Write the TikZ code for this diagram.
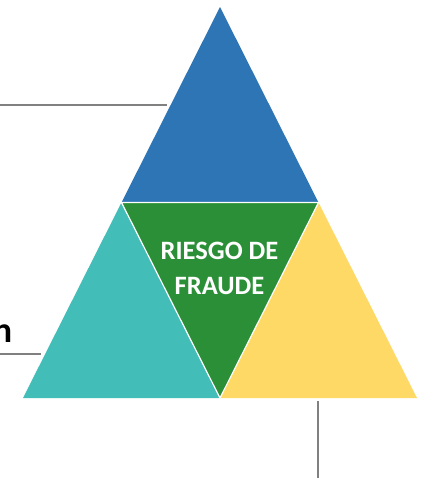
\documentclass[tikz,border=0pt]{standalone}
\usepackage{fontspec}
\setmainfont{Carlito}
\definecolor{cblue}{RGB}{46,117,182}
\definecolor{cgreen}{RGB}{43,143,55}
\definecolor{cteal}{RGB}{66,189,183}
\definecolor{cyellow}{RGB}{255,217,102}
\definecolor{cline}{RGB}{128,128,128}
\begin{document}
\begin{tikzpicture}[x=1pt,y=-1pt,
  piece/.style={draw=white,line width=1.2pt,line join=miter},
  leader/.style={draw=cline,line width=1.3pt}]
\useasboundingbox (0,0) rectangle (421,478);
\coordinate (A) at (220,7);
\coordinate (L) at (23,398);
\coordinate (R) at (417,398);
\coordinate (ML) at (121.5,202.5);
\coordinate (MR) at (318.5,202.5);
\coordinate (MB) at (220,398);
\fill[cblue] (A)--(ML)--(MR)--cycle;
\fill[cteal] (ML)--(L)--(MB)--cycle;
\fill[cyellow] (MR)--(MB)--(R)--cycle;
\fill[cgreen] (ML)--(MR)--(MB)--cycle;
\draw[piece] (ML)--(MR)--(MB)--cycle;
\node[text=white,font=\bfseries\fontsize{26.5}{35}\selectfont,align=center,inner sep=0pt] (risk) at (219.5,268) {RIESGO DE\\FRAUDE};
\node[anchor=base east,inner sep=0pt,font=\bfseries\fontsize{36}{36}\selectfont] (lbl) at (12.5,342) {n};
\coordinate (t1) at (0,105);
\coordinate (t2) at (167,105);
\coordinate (l1) at (0,354);
\coordinate (l2) at (41,354);
\coordinate (v1) at (318,401);
\coordinate (v2) at (318,478);
\draw[leader] (t1)--(t2);
\draw[leader] (l1)--(l2);
\draw[leader] (v1)--(v2);
\end{tikzpicture}
\end{document}
